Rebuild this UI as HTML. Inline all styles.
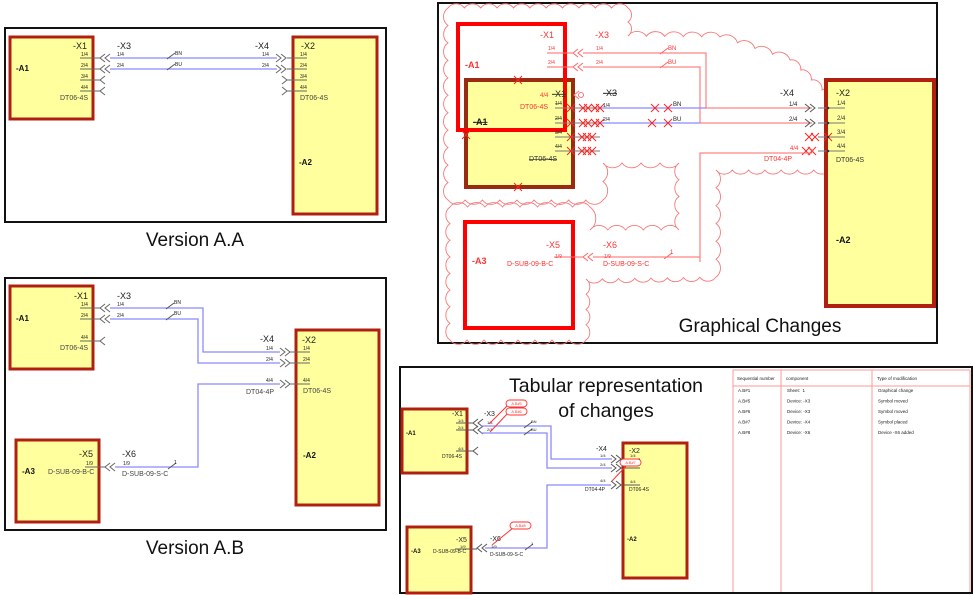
<!DOCTYPE html>
<html><head><meta charset="utf-8"><style>
html,body{margin:0;padding:0;background:#fff;width:974px;height:595px;overflow:hidden}
svg{display:block}
text{font-family:"Liberation Sans",sans-serif}
</style></head><body>
<svg id="s" width="974" height="595" viewBox="0 0 974 595" xmlns="http://www.w3.org/2000/svg"></svg>
<script>
const S=document.getElementById('s');let out='';
const Y='#ffff9e',DR='#b02010';
function box(x,y,w,h,f,st,sw){out+=`<rect x="${x}" y="${y}" width="${w}" height="${h}" fill="${f}" stroke="${st}" stroke-width="${sw}"/>`;}
function t(x,y,s,sz,c,o){o=o||{};out+=`<text x="${x}" y="${y}" font-size="${sz}" fill="${c||'#222'}"${o.b?' font-weight="bold"':''}${o.a?` text-anchor="${o.a}"`:''}${o.st?' text-decoration="line-through"':''}>${s}</text>`;}
function pl(p,c,w){out+=`<polyline points="${p}" fill="none" stroke="${c}" stroke-width="${w||1}"/>`;}
function chevL(x,y,c,n){for(let i=0;i<n;i++){const a=x+i*5;out+=`<polyline points="${a+5},${y-4} ${a},${y} ${a+5},${y+4}" fill="none" stroke="${c||'#555'}" stroke-width="1"/>`;}}
function chevR(x,y,c,n){for(let i=0;i<n;i++){const a=x+i*5;out+=`<polyline points="${a},${y-4} ${a+5},${y} ${a},${y+4}" fill="none" stroke="${c||'#555'}" stroke-width="1"/>`;}}
function cross(x,y,s,c){out+=`<path d="M${x-s} ${y-s}L${x+s} ${y+s}M${x+s} ${y-s}L${x-s} ${y+s}" stroke="${c||'#f22'}" stroke-width="1"/>`;}
function slash(x,y,c){pl(`${x-4},${y+3} ${x+4},${y-3}`,c||'#555',1);}
function cloud(pts,c){let d=`M${pts[0][0]} ${pts[0][1]}`;for(let i=0;i<pts.length;i++){const a=pts[i],b=pts[(i+1)%pts.length];const L=Math.hypot(b[0]-a[0],b[1]-a[1]);const n=Math.max(1,Math.round(L/17));for(let k=1;k<=n;k++){const x=a[0]+(b[0]-a[0])*k/n,y=a[1]+(b[1]-a[1])*k/n;const r=L/n*0.62;d+=`A${r.toFixed(1)} ${r.toFixed(1)} 0 0 1 ${x.toFixed(1)} ${y.toFixed(1)}`;}}out+=`<path d="${d}" fill="none" stroke="${c}" stroke-width="0.9"/>`;}
const B='#8a8aff';
/* ===== Panel 1: Version A.A ===== */
box(5,28,381,194,'#fff','#111',2);
box(10,37,83,82,Y,DR,3);box(293,37,84,177,Y,DR,3);
t(73,49,'-X1',9);t(16,71,'-A1',8,'#111',{b:1});
[58,69,80,91].forEach((y,i)=>{pl(`80,${y} 100,${y}`,'#666',1);t(81,y-2,(i+1)+'/4',5);});
t(60,100,'DT06-4S',7,'#444');
chevL(100,58,'#666',2);chevL(100,69,'#666',2);chevL(100,80,'#666',1);chevL(100,91,'#666',1);
t(117,49,'-X3',9);t(255,49,'-X4',9);
pl('110,58 277,58',B,1.3);pl('110,69 277,69',B,1.3);
t(117,56,'1/4',5);t(117,67,'2/4',5);t(262,56,'1/4',5);t(262,67,'2/4',5);
slash(171,56);slash(171,67);t(175,55,'BN',5);t(175,66,'BU',5);
chevR(276,58,'#666',2);chevR(276,69,'#666',2);chevR(282,80,'#666',1);chevR(282,91,'#666',1);
[58,69,80,91].forEach((y,i)=>{pl(`287,${y} 307,${y}`,'#666',1);t(300,y-2,(i+1)+'/4',5);});
t(301,49,'-X2',9);t(300,100,'DT06-4S',7,'#444');t(299,165,'-A2',8,'#111',{b:1});
t(195,246,'Version A.A',19,'#111',{a:'middle'});
/* ===== Panel 2: Version A.B ===== */
box(5,278,381,252,'#fff','#111',2);
box(10,286,83,83,Y,DR,3);box(296,330,83,175,Y,DR,3);box(16,440,83,82,Y,DR,3);
t(74,299,'-X1',9);t(16,321,'-A1',8,'#111',{b:1});
[[308,'1/4'],[319,'2/4'],[341,'4/4']].forEach(a=>{pl(`80,${a[0]} 100,${a[0]}`,'#666',1);t(81,a[0]-2,a[1],5);});
t(60,350,'DT06-4S',7,'#444');
chevL(100,308,'#666',2);chevL(100,319,'#666',2);chevL(100,341,'#666',1);
t(117,299,'-X3',9);t(117,306,'1/4',5);t(117,317,'2/4',5);
pl('110,308 203,308 203,352 280,352',B,1.3);pl('110,319 198,319 198,363 280,363',B,1.3);
slash(170,306);slash(170,317);t(174,304,'BN',5);t(174,315,'BU',5);
t(260,342,'-X4',9);t(266,350,'1/4',5);t(266,361,'2/4',5);t(266,382,'4/4',5);t(246,394,'DT04-4P',7,'#444');
chevR(280,352,'#666',2);chevR(280,363,'#666',2);chevR(280,384,'#666',2);
[[352,'1/4'],[363,'2/4'],[384,'4/4']].forEach(a=>{pl(`290,${a[0]} 310,${a[0]}`,'#666',1);t(303,a[0]-2,a[1],5);});
t(302,343,'-X2',9);t(303,393,'DT06-4S',7,'#444');t(303,458,'-A2',8,'#111',{b:1});
pl('280,384 198,384 198,467 115,467',B,1.3);slash(172,466);t(174,464,'1',5);
t(79,457,'-X5',9);t(86,465,'1/9',5);pl('85,467 105,467','#666',1);t(48,474,'D-SUB-09-B-C',7,'#444');t(22,474,'-A3',8,'#111',{b:1});
chevL(105,467,'#666',2);t(122,457,'-X6',9);t(123,465,'1/9',5);t(122,476,'D-SUB-09-S-C',7,'#444');
t(195,554,'Version A.B',19,'#111',{a:'middle'});
/* ===== Panel 3: Graphical Changes ===== */
box(438,3,499,340,'#fff','#111',2);
cloud([[448,8],[628,8],[628,36],[720,37],[790,60],[822,90],[848,100],[858,118],[858,160],[830,170],[716,170],[716,277],[586,279],[586,340],[450,340],[450,207],[590,207],[590,230],[679,230],[679,163],[603,163],[603,200],[448,200]],'#f87878');
box(466,80,107,107,Y,'#9a2a10',4);
box(826,80,108,226,Y,DR,4);
box(458,24,107,106,'none','#f00',4);
box(465,222,108,106,'#fff','#f00',4);
const R='#f33';
t(540,38,'-X1',9,R);t(465,68,'-A1',9,R,{b:1});
[[53,'1/4'],[67,'2/4']].forEach(a=>{pl(`547,${a[0]} 573,${a[0]}`,'#f66',1);t(548,a[0]-3,a[1],5,R);});
chevL(573,53,'#f66',2);chevL(573,67,'#f66',2);
t(595,38,'-X3',9,R);t(596,50,'1/4',5,R);t(596,64,'2/4',5,R);
pl('583,53 706,53 706,108 812,108','#f66',1);pl('583,67 700,67 700,123 812,123','#f66',1);
slash(664,51,'#f66');slash(664,65,'#f66');t(668,50,'BN',6,R);t(668,64,'BU',6,R);
t(540,97,'4/4',6,R);t(552,97,'-X1',9,'#333',{st:1});t(520,109,'DT06-4S',7,R);
t(473,125,'-A1',9,'#222',{b:1,st:1});
[[108,'1/4'],[123,'2/4'],[137,'3/4'],[151,'4/4']].forEach(a=>{pl(`555,${a[0]} 600,${a[0]}`,'#777',1);t(555,a[0]-3,a[1],5,'#333',{st:1});});
t(529,161,'DT06-4S',7,'#333',{st:1});
out+='<circle cx="581" cy="95" r="2.5" fill="none" stroke="#f55" stroke-width="0.8"/>';chevL(574,95,'#f77',1);
t(603,96,'-X3',9,'#222',{st:1});t(603,107,'1/4',5);t(603,121,'2/4',5);
pl('600,108 706,108',B,1.3);pl('600,123 700,123',B,1.3);
t(673,106,'BN',6);t(673,121,'BU',6);
[[108,[571,583,588,595,600,655,668]],[123,[571,583,588,595,600,652,668]],[137,[571,582,587,592,809,815,828]],[151,[571,582,587,592,806,812]]].forEach(r=>r[1].forEach(x=>cross(x,r[0],4,'#f22')));
t(780,96,'-X4',9);t(789,106,'1/4',6);t(789,121,'2/4',6);
chevR(805,108,'#555',2);chevR(805,123,'#555',2);chevR(808,151,'#f55',1);
t(790,150,'4/4',6,R);t(764,161,'DT04-4P',7,R);
pl('700,262 700,153 812,153','#f66',1);
[[108,'1/4'],[123,'2/4'],[137,'3/4'],[151,'4/4']].forEach(a=>{pl(`818,${a[0]} 845,${a[0]}`,'#777',1);t(837,a[0]-3,a[1],6,'#333');out+=`<circle cx="828" cy="${a[0]}" r="1.3" fill="#333"/>`;});
t(836,96,'-X2',9,'#222');t(836,162,'DT06-4S',7,'#333');t(836,243,'-A2',9,'#111',{b:1});
cross(518,80,4,'#f22');cross(518,187,4,'#f22');cross(466,135,4,'#f22');
t(546,248,'-X5',9,R);t(555,258,'1/9',5,R);t(507,266,'D-SUB-09-B-C',7,R);t(472,264,'-A3',9,R,{b:1});
pl('554,257 583,257','#f66',1);chevL(583,257,'#f66',2);
t(603,248,'-X6',9,R);t(604,258,'1/9',5,R);t(603,266,'D-SUB-09-S-C',7,R);
pl('593,257 700,257 700,153','#f66',1);slash(668,256,'#f66');t(670,254,'1',6,R);
t(760,332,'Graphical Changes',19,'#111',{a:'middle'});
/* ===== Panel 4: Tabular ===== */
box(400,367,572,226,'#fff','#111',2);
out+='<g stroke="#f99" stroke-width="1"><line x1="733" y1="370" x2="733" y2="592"/><line x1="781" y1="370" x2="781" y2="592"/><line x1="872" y1="370" x2="872" y2="592"/><line x1="970" y1="370" x2="970" y2="592"/><line x1="733" y1="370" x2="970" y2="370"/><line x1="733" y1="386" x2="970" y2="386"/></g>';
t(737,380,'Sequential number',4.5);t(786,380,'component',4.5);t(877,380,'Type of modification',4.5);
[['A.B#1','Sheet:&#160;&#160;1','Graphical change'],['A.B#5','Device: -X3','Symbol moved'],['A.B#6','Device: -X3','Symbol moved'],['A.B#7','Device: -X4','Symbol placed'],['A.B#8','Device: -X6','Device -X6 added']].forEach((r,i)=>{const y=392+i*10.5;t(738,y,r[0],4.5);t(787,y,r[1],4.5);t(878,y,r[2],4.5);});
t(606,392,'Tabular representation',19.5,'#111',{a:'middle'});t(606,417,'of changes',19.5,'#111',{a:'middle'});
box(402,409,65,64,Y,DR,3);box(623,443,64,135,Y,DR,3);box(407,527,64,66,Y,DR,3);
t(452,416,'-X1',7);t(406,435,'-A1',6,'#111',{b:1});
[[423,'1/4'],[430,'2/4'],[451,'4/4']].forEach(a=>{pl(`456,${a[0]} 473,${a[0]}`,'#555',1);t(458,a[0]-1,a[1],4);});t(442,458,'DT06-4S',5);
chevL(473,423,'#555',2);chevL(473,430,'#555',2);chevL(473,451,'#555',1);
t(484,416,'-X3',7);t(487,424,'1/4',4);t(487,431,'2/4',4);
pl('481,426 551,426 551,459 612,459',B,1.3);pl('481,433 547,433 547,468 612,468',B,1.3);
slash(528,425);slash(528,432);t(531,423,'BN',4);t(531,431,'BU',4);
t(596,451,'-X4',7);t(600,457,'1/4',4);t(600,466,'2/4',4);t(600,482,'4/4',4);t(585,491,'DT04-4P',5);
chevR(611,459,'#555',2);chevR(611,468,'#555',2);chevR(611,485,'#555',2);
[[459,'1/4'],[468,'2/4'],[485,'4/4']].forEach(a=>{pl(`620,${a[0]} 640,${a[0]}`,'#555',1);t(630,a[0]-2,a[1],4);});
t(629,453,'-X2',7);t(629,491,'DT06-4S',5);t(627,541,'-A2',6,'#111',{b:1});
pl('611,485 547,485 547,548 485,548',B,1.3);slash(529,547);t(531,545,'1',4);
t(456,542,'-X5',7);t(460,548,'1/9',4);pl('455,549 477,549','#555',1);t(433,553,'D-SUB-09-B-C',5);t(411,553,'-A3',6,'#111',{b:1});
chevL(477,548,'#555',2);t(490,541,'-X6',7);t(491,548,'1/9',4);t(490,556,'D-SUB-09-S-C',5);
function bub(x,y,s){out+=`<rect x="${x}" y="${y}" width="21" height="7" rx="3.5" fill="#fff" stroke="#f33" stroke-width="0.9"/>`;t(x+10.5,y+5.2,s,3.8,'#f33',{a:'middle'});}
pl('509,404 489,424','#f33',1);pl('509,412 490,432','#f33',1);pl('627,465 612,481','#f33',1);pl('513,528 492,545','#f33',1);
bub(506,400,'A.B#5');bub(506,408,'A.B#6');bub(620,459,'A.B#7');bub(510,522,'A.B#8');
S.innerHTML=out;
</script>
</body></html>
